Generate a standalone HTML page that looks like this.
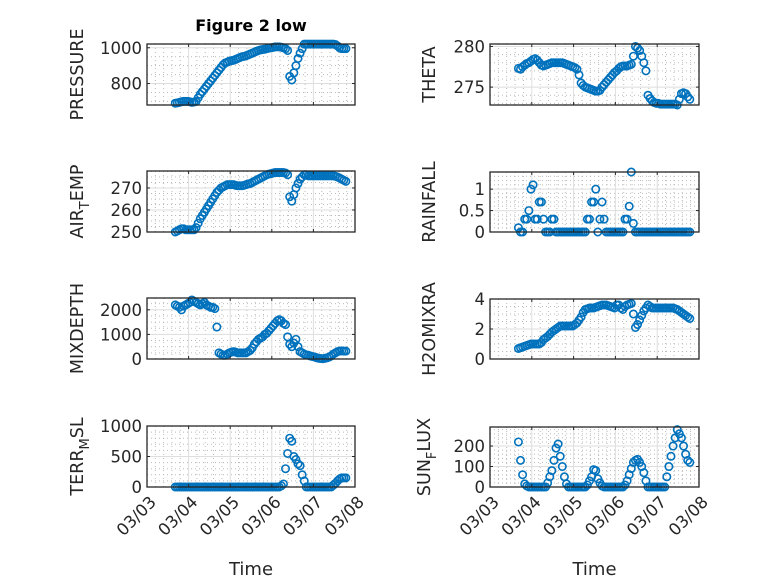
<!DOCTYPE html>
<html><head><meta charset="utf-8"><style>
html,body{margin:0;padding:0;background:#fff}
svg{display:block;font-family:"DejaVu Sans","Liberation Sans",sans-serif}
</style></head><body>
<svg id="fig" width="778" height="583" viewBox="0 0 778 583" xmlns="http://www.w3.org/2000/svg">
<rect width="778" height="583" fill="#fff"/>
<text x="251" y="31" text-anchor="middle" font-size="16" font-weight="bold" fill="#000">Figure 2 low</text>
</svg>
<script>
const times = [3.68,3.73,3.78,3.83,3.88,3.93,3.98,4.03,4.08,4.13,4.18,4.23,4.28,4.33,4.38,4.43,4.48,4.53,4.58,4.63,4.68,4.73,4.78,4.83,4.88,4.93,4.98,5.03,5.08,5.13,5.18,5.23,5.28,5.33,5.38,5.43,5.48,5.53,5.58,5.63,5.68,5.73,5.78,5.83,5.88,5.93,5.98,6.03,6.08,6.13,6.18,6.23,6.28,6.33,6.38,6.43,6.48,6.53,6.58,6.63,6.68,6.73,6.78,6.83,6.88,6.93,6.98,7.03,7.08,7.13,7.18,7.23,7.28,7.33,7.38,7.43,7.48,7.53,7.58,7.63,7.68,7.73,7.78];
const xTickDays = [3,4,5,6,7,8];
const xTickLabels = ["03/03","03/04","03/05","03/06","03/07","03/08"];
const pressure = [690,692,695,698,700,700,700,698,695,697, 700,720,740,755,770,785,800,815,830,845, 860,875,890,905,915,920,925,928,930,935, 940,945,950,952,955,960,965,970,975,980, 985,988,990,992,995,998,1000,1002,1005,1005, 1005,1003,1000,995,985,840,820,860,900,940, 970,995,1020,1020,1020,1020,1020,1020,1020,1020, 1020,1020,1020,1020,1020,1020,1020,1018,1010,1000, 995,995,995];
const airTemp = [250,250.5,251,251.5,251.5,251,251,251,251,251, 252,254,256,257.5,259,260.5,262,263.5,265,266.5, 268,269,270,270.5,271,271.5,271.5,271.5,271.5,271.2, 271,271,271,271.2,271.5,271.8,272,272.5,273,273.5, 274,274.5,275,275.5,276,276.3,276.5,276.8,277,277, 277,277,277,276.8,276,266,264,267,270,272, 274,275,276,276,275.5,275.5,275.5,275.5,275.5,275.5, 275.5,275.5,275.5,275.5,275.5,275.5,275.5,275.3,275,274.5, 274,273.5,273];
const mixDepth = [2200,2150,2100,2000,2150,2200,2250,2300,2400,2350, 2300,2250,2200,2250,2300,2200,2150,2100,2100,2050, 1300,250,200,150,150,200,250,280,300,280, 250,250,250,250,250,300,350,450,600,700, 800,850,900,1000,1050,1150,1250,1350,1450,1550, 1600,1550,1450,1400,900,600,500,650,800,500, 300,250,200,170,150,120,100,80,50,30, 20,10,30,50,80,130,200,250,300,320, 330,320,320];
const terrMsl = [0,0,0,0,0,0,0,0,0,0, 0,0,0,0,0,0,0,0,0,0, 0,0,0,0,0,0,0,0,0,0, 0,0,0,0,0,0,0,0,0,0, 0,0,0,0,0,0,0,0,0,0, 0,20,50,300,550,800,750,500,450,380, 350,200,100,0,0,0,0,0,0,0, 0,0,0,0,0,0,30,60,100,130, 150,150,150];
const theta = [277.3,277.2,277.5,277.7,277.9,278.0,278.2,278.4,278.5,278.3, 278.0,277.7,277.6,277.7,277.8,277.9,278.0,278.0,278.0,278.0, 278.0,278.0,277.9,277.8,277.7,277.6,277.5,277.4,277.2,276.5, 275.5,275.2,275.0,274.9,274.8,274.7,274.6,274.5,274.5,274.6, 275.0,275.3,275.6,275.9,276.2,276.5,276.8,277.0,277.3,277.5, 277.6,277.6,277.6,277.7,277.8,278.8,280.0,279.8,279.5,278.8, 278.0,277.0,274.0,273.6,273.3,273.1,273.0,273.0,272.9,272.9, 272.9,272.9,272.9,272.9,272.9,272.9,272.8,273.5,274.2,274.3, 274.2,273.8,273.5];
const rainfall = [0.1,0,0,0.3,0.3,0.5,1.0,1.1,0.3,0.3, 0.7,0.7,0.3,0,0,0,0.3,0.3,0,0, 0,0,0,0,0,0,0,0,0,0, 0,0,0,0.3,0.3,0.7,0.7,1.0,0,0.3, 0.7,0.3,0,0,0,0,0,0,0,0, 0,0.3,0.3,0.6,1.4,0.2,0,0,0,0, 0,0,0,0,0,0,0,0,0,0, 0,0,0,0,0,0,0,0,0,0, 0,0,0];
const h2oMix = [0.7,0.75,0.8,0.85,0.9,0.95,1.0,1.0,1.0,1.0, 1.0,1.1,1.3,1.4,1.5,1.65,1.8,1.9,2.0,2.1, 2.2,2.2,2.2,2.2,2.2,2.2,2.2,2.3,2.4,2.6, 2.8,3.1,3.3,3.35,3.4,3.4,3.4,3.45,3.5,3.55, 3.6,3.6,3.6,3.55,3.5,3.45,3.4,3.6,3.6,3.4, 3.3,3.5,3.6,3.65,3.7,3.0,2.1,2.3,2.6,2.9, 3.2,3.4,3.6,3.5,3.4,3.4,3.4,3.4,3.4,3.4, 3.4,3.4,3.4,3.4,3.4,3.35,3.3,3.2,3.1,3.0, 2.9,2.8,2.7];
const sunFlux = [220,130,60,15,5,0,0,0,0,0, 0,0,0,0,20,50,80,130,190,210, 150,100,50,15,0,0,0,0,0,0, 0,0,0,10,30,50,85,80,40,20, 5,0,0,0,0,0,0,0,0,0, 0,10,30,60,90,120,130,135,120,100, 70,30,0,0,0,0,0,0,0,0, 0,50,100,150,200,240,280,260,240,200, 160,130,120];

const NS="http://www.w3.org/2000/svg";
const svg=document.getElementById('fig');
function mk(tag,attrs,parent){const e=document.createElementNS(NS,tag);for(const k in attrs)e.setAttribute(k,attrs[k]);(parent||svg).appendChild(e);return e;}

const panels=[
 {name:'pressure',data:pressure,x0:147,x1:355,y0:44,y1:105,ymin:680,ymax:1021,ticks:[800,1000],minor:50,label:['PRESSURE'],lx:83,showX:false},
 {name:'air-temp',data:airTemp,x0:147,x1:355,y0:171,y1:232,ymin:250,ymax:277.7,ticks:[250,260,270],minor:2.5,label:['AIR','T','EMP'],lx:83,showX:false},
 {name:'mixdepth',data:mixDepth,x0:147,x1:355,y0:298,y1:359,ymin:0,ymax:2480,ticks:[0,1000,2000],minor:250,label:['MIXDEPTH'],lx:83,showX:false},
 {name:'terr-msl',data:terrMsl,x0:147,x1:355,y0:426,y1:487,ymin:0,ymax:1000,ticks:[0,500,1000],minor:100,label:['TERR','M','SL'],lx:83,showX:true},
 {name:'theta',data:theta,x0:490,x1:699,y0:44,y1:105,ymin:272.8,ymax:280.3,ticks:[275,280],minor:1,label:['THETA'],lx:435,showX:false},
 {name:'rainfall',data:rainfall,x0:490,x1:699,y0:172,y1:232,ymin:0,ymax:1.4,ticks:[0,0.5,1],minor:0.1,label:['RAINFALL'],lx:435,showX:false},
 {name:'h2omixratio',data:h2oMix,x0:490,x1:699,y0:299,y1:359,ymin:0,ymax:4,ticks:[0,2,4],minor:0.5,label:['H2OMIXRA'],lx:435,showX:false},
 {name:'sun-flux',data:sunFlux,x0:490,x1:699,y0:427,y1:487,ymin:0,ymax:293,ticks:[0,100,200],minor:20,label:['SUN','F','LUX'],lx:430,showX:true}
];

panels.forEach(p=>{
 const g=mk('g',{});
 
 
 const xs=d=>p.x0+(d-3)/5*(p.x1-p.x0);
 const ys=v=>p.y1-(v-p.ymin)/(p.ymax-p.ymin)*(p.y1-p.y0);
 mk('rect',{x:p.x0,y:p.y0,width:p.x1-p.x0,height:p.y1-p.y0,fill:'#fff'},g);
 for(let d=3;d<8-1e-9;d+=0.2){ if(Math.abs(d-Math.round(d))<1e-6)continue; const x=xs(d);
  mk('line',{x1:x,x2:x,y1:p.y0,y2:p.y1,stroke:'#bbb','stroke-width':1,'stroke-dasharray':'1 3'},g);}
 const start=Math.ceil(p.ymin/p.minor)*p.minor;
 for(let v=start;v<=p.ymax+1e-9;v+=p.minor){ if(p.ticks.some(t=>Math.abs(t-v)<1e-6))continue; const y=ys(v);
  mk('line',{x1:p.x0,x2:p.x1,y1:y,y2:y,stroke:'#bbb','stroke-width':1,'stroke-dasharray':'1 3'},g);}
 xTickDays.forEach(d=>{const x=xs(d);mk('line',{x1:x,x2:x,y1:p.y0,y2:p.y1,stroke:'#dedede','stroke-width':1},g);});
 p.ticks.forEach(v=>{const y=ys(v);mk('line',{x1:p.x0,x2:p.x1,y1:y,y2:y,stroke:'#dedede','stroke-width':1},g);});
 p.data.forEach((v,i)=>{
  const c=mk('circle',{cx:xs(times[i]),cy:ys(v),r:3.7,fill:'none',stroke:'#0072BD','stroke-width':1.6},g);
  
  
 });
 mk('rect',{x:p.x0,y:p.y0,width:p.x1-p.x0,height:p.y1-p.y0,fill:'none',stroke:'#262626','stroke-width':1.3},g);
 xTickDays.forEach(d=>{const x=xs(d);
  mk('line',{x1:x,x2:x,y1:p.y1,y2:p.y1-3,stroke:'#262626'},g);
  mk('line',{x1:x,x2:x,y1:p.y0,y2:p.y0+3,stroke:'#262626'},g);});
 p.ticks.forEach(v=>{const y=ys(v);
  mk('line',{x1:p.x0,x2:p.x0+3,y1:y,y2:y,stroke:'#262626'},g);
  mk('line',{x1:p.x1,x2:p.x1-3,y1:y,y2:y,stroke:'#262626'},g);
  const t=mk('text',{x:p.x0-5,y:y+6,'text-anchor':'end','font-size':16.5,fill:'#262626'},g);
  t.textContent=String(v);
  
  
 });
 const cy=(p.y0+p.y1)/2;
 const yl=mk('text',{transform:`translate(${p.lx},${cy}) rotate(-90)`,'text-anchor':'middle','font-size':17.5,fill:'#262626'},g);
 
 
 if(p.label.length===1){yl.textContent=p.label[0];}
 else{
  const a=mk('tspan',{},yl);a.textContent=p.label[0];
  const b=mk('tspan',{dy:6,'font-size':13},yl);b.textContent=p.label[1];
  const c=mk('tspan',{dy:-6},yl);c.textContent=p.label[2];
 }
 if(p.showX){
  xTickDays.forEach((d,i)=>{const x=xs(d);
   const t=mk('text',{transform:`translate(${x+6},${p.y1+12}) rotate(-45)`,'text-anchor':'end','font-size':16.5,fill:'#262626'},g);
   t.setAttribute('dy','0.35em');
   t.textContent=xTickLabels[i];
   
   
  });
  const xl=mk('text',{x:(p.x0+p.x1)/2,y:575,'text-anchor':'middle','font-size':18,fill:'#262626'},g);
  xl.textContent='Time';
  
  
 }
});
</script>
</body></html>
